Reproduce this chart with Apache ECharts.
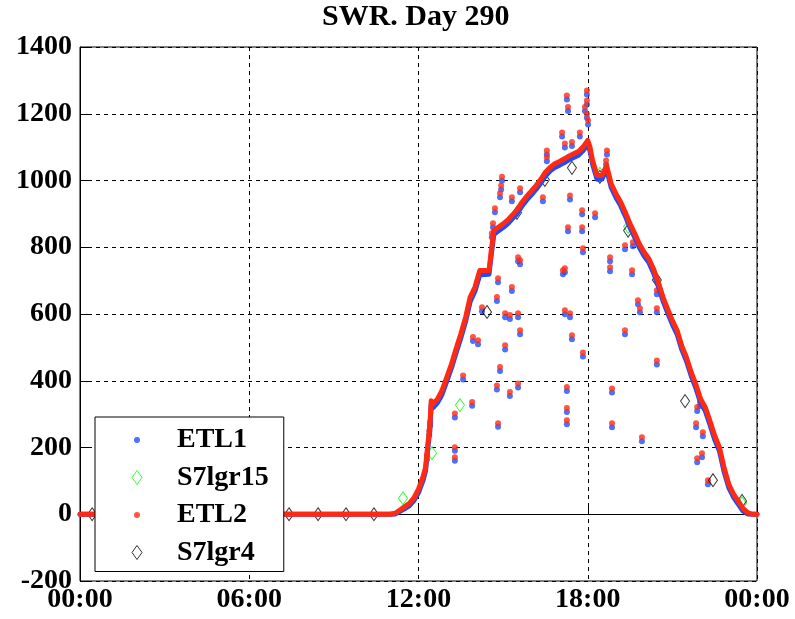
<!DOCTYPE html>
<html>
<head>
<meta charset="utf-8">
<script src="https://cdn.jsdelivr.net/npm/echarts@6/dist/echarts.min.js"></script>
<style>
html,body{margin:0;padding:0;background:#fff;}
#chart{width:795px;height:619px;}
</style>
</head>
<body>
<div id="chart"></div>
<script>
// ---- data (hour of day, W/m2) ----
var titleText = 'SWR. Day 290';
var xTickLabels = ['00:00', '06:00', '12:00', '18:00', '00:00'];
var seriesNames = ['ETL1', 'S7lgr15', 'ETL2', 'S7lgr4'];

var etl1Band = [[0,0],[11,0],[11.17,1],[11.33,8],[11.5,16],[11.67,25],[11.83,40],[12.0,65],[12.17,104],[12.25,130],[12.33,198],[12.4,248],[12.45,328],[12.5,318],[12.67,334],[12.83,358],[13.0,398],[13.17,439],[13.33,483],[13.5,528],[13.67,578],[13.83,637],[14.0,668],[14.17,717],[14.33,718],[14.5,719],[14.58,778],[14.67,838],[14.83,849],[15.0,859],[15.17,871],[15.33,886],[15.5,901],[15.67,924],[15.83,941],[16.0,957],[16.17,974],[16.33,992],[16.5,1013],[16.67,1029],[16.83,1039],[17.0,1046],[17.17,1054],[17.33,1062],[17.5,1069],[17.67,1076],[17.83,1089],[18.0,1108],[18.08,1089],[18.17,1049],[18.33,1004],[18.5,1004],[18.67,1033],[18.83,979],[19.0,949],[19.17,924],[19.33,894],[19.5,859],[19.67,829],[19.83,799],[20.0,774],[20.17,754],[20.33,724],[20.5,684],[20.67,639],[20.83,604],[21.0,569],[21.17,539],[21.33,494],[21.5,459],[21.67,414],[21.83,379],[22.0,334],[22.17,309],[22.33,269],[22.5,224],[22.67,189],[22.83,129],[23.0,80],[23.17,51],[23.33,31],[23.5,10],[23.67,1],[23.83,0],[24,0]];

var etl2Band = [[0,0],[11,0],[11.17,3],[11.33,12],[11.5,22],[11.67,32],[11.83,48],[12.0,75],[12.17,115],[12.25,140],[12.33,210],[12.4,260],[12.45,340],[12.5,330],[12.67,345],[12.83,370],[13.0,410],[13.17,450],[13.33,495],[13.5,540],[13.67,590],[13.83,650],[14.0,680],[14.17,730],[14.33,730],[14.5,730],[14.58,790],[14.67,850],[14.83,860],[15.0,870],[15.17,882],[15.33,897],[15.5,912],[15.67,935],[15.83,952],[16.0,968],[16.17,985],[16.33,1003],[16.5,1025],[16.67,1040],[16.83,1050],[17.0,1057],[17.17,1065],[17.33,1073],[17.5,1080],[17.67,1087],[17.83,1100],[18.0,1120],[18.08,1100],[18.17,1060],[18.33,1015],[18.5,1015],[18.67,1045],[18.83,990],[19.0,960],[19.17,935],[19.33,905],[19.5,870],[19.67,840],[19.83,810],[20.0,785],[20.17,765],[20.33,735],[20.5,695],[20.67,650],[20.83,615],[21.0,580],[21.17,550],[21.33,505],[21.5,470],[21.67,425],[21.83,390],[22.0,345],[22.17,320],[22.33,280],[22.5,235],[22.67,200],[22.83,140],[23.0,90],[23.17,60],[23.33,40],[23.5,18],[23.67,5],[23.83,0],[24,0]];

var etl2Spikes = [[12.3,175],[12.38,250],[12.41,276],[13.29,302],[13.29,201],[13.29,171],[13.58,416],[13.9,336],[13.93,531],[14.11,521],[14.25,620],[14.6,842],[14.64,872],[14.71,917],[14.78,651],[14.78,386],[14.82,273],[14.82,707],[14.89,962],[14.93,985],[14.96,1011],[14.89,441],[15.07,602],[15.07,506],[15.24,366],[15.24,597],[15.31,681],[15.31,950],[15.53,602],[15.53,392],[15.53,770],[15.6,977],[15.6,551],[15.6,761],[16.41,950],[16.55,1070],[16.55,1090],[17.09,1144],[17.12,731],[17.19,611],[17.19,737],[17.19,1111],[17.26,1255],[17.26,381],[17.26,318],[17.26,282],[17.3,1220],[17.3,860],[17.37,955],[17.37,602],[17.44,1115],[17.44,536],[17.72,1144],[17.8,911],[17.8,860],[17.83,485],[17.83,797],[17.9,1220],[17.97,1270],[17.97,1240],[17.97,1200],[18.01,1180],[18.26,902],[18.65,1060],[18.68,1090],[18.79,740],[18.79,770],[18.86,377],[18.86,273],[19.32,806],[19.32,551],[19.57,731],[19.6,815],[19.78,641],[19.85,617],[19.92,231],[20.45,617],[20.45,461],[20.45,671],[21.84,273],[21.88,321],[21.88,168],[21.98,336],[22.05,183],[22.08,246],[22.26,102]];

var etl1Spikes = [[12.3,164],[12.38,238],[12.41,265],[13.29,290],[13.29,190],[13.29,160],[13.58,404],[13.9,325],[13.93,519],[14.11,509],[14.25,608],[14.6,830],[14.64,860],[14.71,905],[14.78,639],[14.78,374],[14.82,262],[14.82,695],[14.89,950],[14.93,973],[14.96,999],[14.89,429],[15.07,590],[15.07,494],[15.24,354],[15.24,585],[15.31,669],[15.31,938],[15.53,590],[15.53,380],[15.53,758],[15.6,965],[15.6,539],[15.6,749],[16.41,938],[16.55,1058],[16.55,1078],[17.09,1132],[17.12,719],[17.19,599],[17.19,725],[17.19,1099],[17.26,1243],[17.26,369],[17.26,306],[17.26,270],[17.3,1208],[17.3,848],[17.37,943],[17.37,590],[17.44,1103],[17.44,524],[17.72,1132],[17.8,899],[17.8,848],[17.83,473],[17.83,785],[17.9,1208],[17.97,1258],[17.97,1228],[17.97,1188],[18.01,1168],[18.26,890],[18.65,1048],[18.68,1078],[18.79,728],[18.79,758],[18.86,365],[18.86,261],[19.32,794],[19.32,539],[19.57,719],[19.6,803],[19.78,629],[19.85,605],[19.92,219],[20.45,605],[20.45,449],[20.45,659],[21.84,261],[21.88,309],[21.88,156],[21.98,324],[22.05,171],[22.08,234],[22.26,90]];

var s7lgr15 = [[11.45,48],[12.48,183],[13.47,327],[18.43,1020],[19.43,862],[23.47,33]];

var s7lgr4 = [[0.43,0],[1.43,0],[2.43,0],[3.43,0],[4.43,0],[5.43,0],[6.43,0],[7.41,0],[8.44,0],[9.43,0],[10.42,0],[14.43,606],[15.49,903],[16.48,1002],[17.44,1038],[18.43,1011],[19.43,850],[20.45,702],[21.45,339],[22.44,102],[23.47,40]];

// ---- styles ----
var FONT = 'Liberation Serif';
var BLUE = '#1f4cff';
var RED = '#ff2a12';
var GREEN = '#00ff00';
var BLACK = '#000000';
// small dot inside an invisible 14x14 box (degenerate corners keep the box size)
var DOT_ICON = 'path://M0,0L0.01,0L0,0.01Z M14,14L13.99,14L14,13.99Z M7,4A3,3,0,1,1,7,10A3,3,0,1,1,7,4Z';
var DIAMOND_ICON = 'path://M5,0L10,7L5,14L0,7Z';

var chart = echarts.init(document.getElementById('chart'), null, {renderer: 'canvas'});

var axisLabelStyle = {color: BLACK, fontFamily: FONT, fontWeight: 'bold', fontSize: 28};
var splitStyle = {show: true, lineStyle: {color: BLACK, type: [4, 4], width: 1}};

chart.setOption({
  animation: false,
  backgroundColor: '#fff',
  title: {
    text: titleText,
    left: 317,
    top: -3,
    textStyle: {fontFamily: FONT, fontWeight: 'bold', fontSize: 30, color: BLACK}
  },
  grid: {left: 80, right: 38, top: 47, bottom: 38, show: true, borderColor: BLACK, borderWidth: 1, backgroundColor: '#fff'},
  xAxis: {
    type: 'value', min: 0, max: 24, interval: 6,
    axisLine: {show: true, lineStyle: {color: BLACK, width: 1}},
    axisTick: {show: true, inside: true, length: 8, lineStyle: {color: BLACK}},
    axisLabel: Object.assign({margin: 5, formatter: function (v) { return xTickLabels[Math.round(v / 6)]; }}, axisLabelStyle),
    splitLine: splitStyle
  },
  yAxis: {
    type: 'value', min: -200, max: 1400, interval: 200,
    axisLine: {show: true, lineStyle: {color: BLACK, width: 1}},
    axisTick: {show: true, inside: true, length: 8, lineStyle: {color: BLACK}},
    axisLabel: Object.assign({margin: 8, formatter: function (v) { return String(v); }}, axisLabelStyle),
    splitLine: splitStyle
  },
  legend: {
    orient: 'vertical',
    left: 95, top: 417,
    padding: [9, 15, 5, 35],
    itemGap: 9.5,
    itemWidth: 14, itemHeight: 14,
    backgroundColor: '#fff',
    borderColor: BLACK, borderWidth: 1, borderRadius: 0,
    selectedMode: false,
    formatter: function (name) { return '{t|' + name + '}'; },
    textStyle: {
      rich: {t: {fontFamily: FONT, fontWeight: 'bold', fontSize: 28, color: BLACK, lineHeight: 30, padding: [0, 0, 0, 28]}}
    },
    data: [
      {name: seriesNames[0], icon: DOT_ICON, itemStyle: {color: BLUE, borderWidth: 0}},
      {name: seriesNames[1], icon: DIAMOND_ICON, itemStyle: {color: '#fff', borderColor: GREEN, borderWidth: 1}},
      {name: seriesNames[2], icon: DOT_ICON, itemStyle: {color: RED, borderWidth: 0}},
      {name: seriesNames[3], icon: DIAMOND_ICON, itemStyle: {color: '#fff', borderColor: BLACK, borderWidth: 1}}
    ]
  },
  series: [
    {name: 'ETL1 band', type: 'line', data: etl1Band, symbol: 'none', silent: true,
     lineStyle: {color: BLUE, width: 5, cap: 'round', join: 'round'}},
    {name: seriesNames[0], type: 'scatter', data: etl1Spikes, symbol: 'circle', symbolSize: 6, silent: true,
     itemStyle: {color: BLUE}},
    {name: seriesNames[1], type: 'scatter', data: s7lgr15, symbol: 'diamond', symbolSize: [9, 13], silent: true,
     itemStyle: {color: 'rgba(255,255,255,0)', borderColor: GREEN, borderWidth: 1}},
    {name: 'ETL2 band', type: 'line', data: etl2Band, symbol: 'none', silent: true,
     lineStyle: {color: RED, width: 5, cap: 'round', join: 'round'}},
    {name: seriesNames[2], type: 'scatter', data: etl2Spikes, symbol: 'circle', symbolSize: 6, silent: true,
     itemStyle: {color: RED}},
    {name: seriesNames[3], type: 'scatter', data: s7lgr4, symbol: 'diamond', symbolSize: [9, 13], silent: true,
     itemStyle: {color: 'rgba(255,255,255,0)', borderColor: BLACK, borderWidth: 1}}
  ]
});
</script>
</body>
</html>
